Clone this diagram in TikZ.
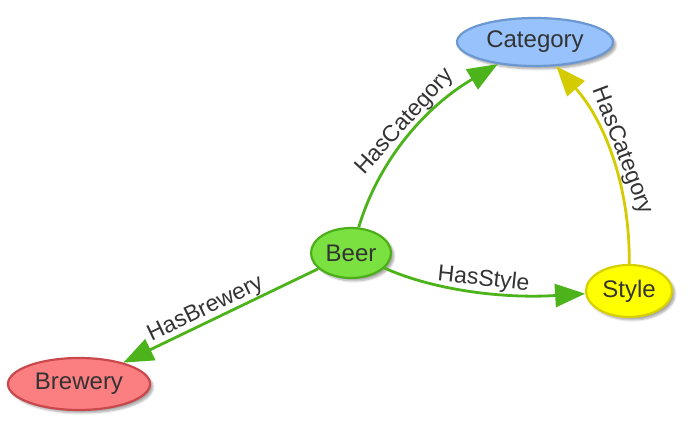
\documentclass[tikz,border=0pt]{standalone}
\usepackage{fontspec}
\setmainfont{Liberation Sans}
\usetikzlibrary{shapes.geometric,shadows.blur,arrows.meta}

\definecolor{labelgray}{HTML}{333333}
\definecolor{catfill}{HTML}{97C2FC}
\definecolor{catline}{HTML}{6C98D2}
\definecolor{beerfill}{HTML}{7BE141}
\definecolor{beerline}{HTML}{4CAF1A}
\definecolor{stylefill}{HTML}{FFFF00}
\definecolor{styleline}{HTML}{D6D000}
\definecolor{brewfill}{HTML}{FB7E81}
\definecolor{brewline}{HTML}{C9484C}
\definecolor{greenedge}{HTML}{4CB31A}
\definecolor{yellowedge}{HTML}{D4CC00}

\tikzset{
  entity/.style={ellipse, line width=2.2pt, inner sep=0pt, text=labelgray,
    font=\fontsize{24}{28}\selectfont,
    blur shadow={shadow xshift=3pt, shadow yshift=-3pt, shadow opacity=35, shadow blur steps=6}},
  rel/.style={line width=2.8pt, -{Triangle[length=30pt,width=23pt]}},
  rellabel/.style={sloped, above, inner sep=0.5pt, text=labelgray,
    font=\fontsize{23}{28}\selectfont}
}

\begin{document}
\begin{tikzpicture}[x=1pt, y=1pt]
    \useasboundingbox (0,0) rectangle (690,425);

    % Category
    \node[entity, fill=catfill, draw=catline, minimum width=156pt, minimum height=48pt]
        (cat) at (535,383) {Category};
    % Beer
    \node[entity, fill=beerfill, draw=beerline, minimum width=80pt, minimum height=50pt]
        (beer) at (351,172) {Beer};
    % Style
    \node[entity, fill=stylefill, draw=styleline, minimum width=86pt, minimum height=52pt]
        (style) at (629,134) {Style};
    % Brewery
    \node[entity, fill=brewfill, draw=brewline, minimum width=142pt, minimum height=52pt]
        (brew) at (79,41) {Brewery};

    % Beer to Category
    \draw[rel, greenedge] (beer) .. controls (378,262) and (422,316) .. (cat)
        node[rellabel, pos=0.55] {HasCategory};
    % Style to Category
    \draw[rel, yellowedge] (style) .. controls (630,235) and (607,301) .. (cat)
        node[rellabel, pos=0.52] {HasCategory};
    % Beer to Style
    \draw[rel, greenedge] (beer) .. controls (431,136) and (499,126) .. (style)
        node[rellabel, pos=0.56] {HasStyle};
    % Beer to Brewery
    \draw[rel, greenedge] (beer) -- (brew)
        node[rellabel, pos=0.55] {HasBrewery};
\end{tikzpicture}
\end{document}
